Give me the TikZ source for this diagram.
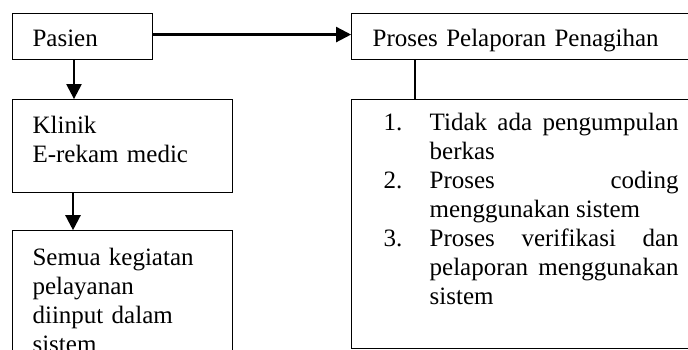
\documentclass[tikz,border=0pt]{standalone}
\usepackage{fontspec}
\setmainfont{Liberation Serif}
\usetikzlibrary{arrows.meta,positioning}

\tikzset{
  kotak/.style={draw,line width=1.1pt,anchor=north west,inner ysep=0pt,inner xsep=20pt,align=left},
  panah/.style={line width=2.3pt,-{Triangle[length=15pt,width=15pt]}}
}

\begin{document}
\begin{tikzpicture}[x=1pt,y=1pt,font=\fontsize{25}{29}\selectfont]
\clip (0,0) rectangle (688,-349);

% kolom kiri
\node[kotak,text width=100pt,text height=32.7pt,text depth=13.3pt] (pasien) at (12,-13) {Pasien};
\node[kotak,text width=180pt,text height=34pt,text depth=59pt,below right=39pt and 0pt of pasien.south west] (klinik) {Klinik\\E-rekam medic};
\node[kotak,text width=180pt,text height=35pt,text depth=140pt,below right=37pt and 0pt of klinik.south west] (semua) {Semua kegiatan\\pelayanan\\diinput dalam\\sistem};

% kolom kanan
\node[kotak,inner xsep=21pt,text width=320pt,text height=32.7pt,text depth=13.3pt,below right=0pt and 198pt of pasien.north east] (proses) {Proses Pelaporan Penagihan};
\node[kotak,inner xsep=32pt,text width=295pt,text height=31pt,text depth=218pt,align=justify,below right=39pt and 0pt of proses.south west] (rincian) {\hbadness=10000
  \noindent\hangindent=46pt\hangafter=1\makebox[46pt][l]{1.}Tidak ada pengumpulan\linebreak berkas\par
  \noindent\hangindent=46pt\hangafter=1\makebox[46pt][l]{2.}Proses coding\linebreak menggunakan sistem\par
  \noindent\hangindent=46pt\hangafter=1\makebox[46pt][l]{3.}Proses verifikasi dan\linebreak pelaporan menggunakan\linebreak sistem\par};

% panah
\draw[panah] ([yshift=2pt]pasien.east) -- ([yshift=2pt]proses.west);
\draw[panah] ([xshift=62pt]pasien.south west) -- ([xshift=62pt]klinik.north west);
\draw[panah] ([xshift=61pt]klinik.south west) -- ([xshift=61pt]semua.north west);
\draw[line width=1.3pt] ([xshift=64pt]proses.south west) -- ([xshift=64pt]rincian.north west);
\end{tikzpicture}
\end{document}
